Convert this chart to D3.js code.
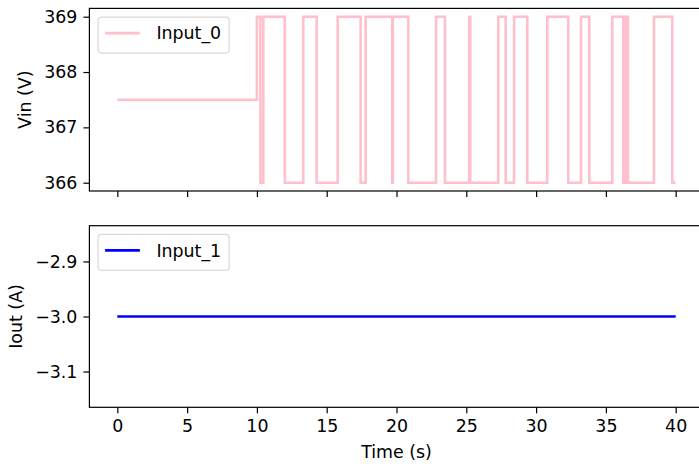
<!DOCTYPE html>
<html>
<head>
<meta charset="utf-8">
<script src="https://cdn.jsdelivr.net/npm/d3@7"></script>
<style>
  body { margin: 0; background: #fff; }
  text { font-family: "DejaVu Sans", sans-serif; fill: #000; }
</style>
</head>
<body>
<svg width="699" height="464"></svg>
<script>
// switching times (s) and voltage after each switch
const vinTimes = [0, 10, 10.25, 10.46, 12, 13.32, 14.28, 15.79, 17.43, 17.79, 19.70, 19.74,
    20.85, 22.83, 23.47, 25.21, 25.28, 27.29, 27.82, 28.42, 29.37, 30.80, 32.31, 33.22,
    33.81, 35.46, 36.25, 36.29, 36.33, 36.37, 36.41, 36.45, 36.49, 36.53, 36.58,
    38.44, 39.76, 40]
const vinValues = [367.5, 369, 366, 369, 366, 369, 366, 369, 366, 369, 366, 369,
    366, 369, 366, 369, 366, 369, 366, 369, 366, 369, 366, 369,
    366, 369, 366, 369, 366, 369, 366, 369, 366, 369, 366,
    369, 366, 366]
const ioutTimes = [0, 40]
const ioutValues = [-3.0, -3.0]

const xTicks = [0, 5, 10, 15, 20, 25, 30, 35, 40]
const vinTicks = [366, 367, 368, 369]
const ioutTicks = [-3.1, -3.0, -2.9]

const FS = 17.4
const svg = d3.select('svg')

const x = d3.scaleLinear().domain([-2, 42]).range([89.4, 703.6])
const yTop = d3.scaleLinear().domain([365.85, 369.15]).range([191, 8.4])
const yBot = d3.scaleLinear().domain([-3.165, -2.835]).range([407.3, 225.7])

const fmtMinus = d => d3.format('.1f')(d).replace('-', '\u2212')

function panel(y, times, values, color, ticks, tickFmt, name, ylabel, labelX, showX) {
    const [y0, y1] = y.range()
    const g = svg.append('g')

    const data = times.map((t, i) => [t, values[i]])
    g.append('path')
        .datum(data)
        .attr('fill', 'none')
        .attr('stroke', color)
        .attr('stroke-width', 2.6)
        .attr('d', d3.line().x(d => x(d[0])).y(d => y(d[1])).curve(d3.curveStepAfter))

    // frame
    g.append('rect')
        .attr('x', x.range()[0]).attr('y', y1)
        .attr('width', x.range()[1] - x.range()[0]).attr('height', y0 - y1)
        .attr('fill', 'none').attr('stroke', '#000').attr('stroke-width', 1.2)

    const xa = g.append('g')
        .attr('transform', `translate(0,${y0})`)
        .call(d3.axisBottom(x).tickValues(xTicks).tickSize(6).tickPadding(6)
            .tickFormat(showX ? d3.format('d') : ''))
    const ya = g.append('g')
        .attr('transform', `translate(${x.range()[0]},0)`)
        .call(d3.axisLeft(y).tickValues(ticks).tickSize(6).tickPadding(6).tickFormat(tickFmt))
    for (const a of [xa, ya]) {
        a.select('.domain').remove()
        a.selectAll('line').attr('stroke', '#000').attr('stroke-width', 1.2)
        a.selectAll('text').attr('font-size', FS).attr('font-family', '"DejaVu Sans", sans-serif')
    }

    g.append('text')
        .attr('transform', `translate(${labelX},${(y0 + y1) / 2}) rotate(-90)`)
        .attr('text-anchor', 'middle')
        .attr('font-size', FS)
        .text(ylabel)

    // legend
    const lx = x.range()[0] + 8.7, ly = y1 + 8.7
    const box = g.append('rect')
        .attr('x', lx).attr('y', ly).attr('rx', 3.5)
        .attr('height', 36)
        .attr('fill', '#fff').attr('fill-opacity', 0.8)
        .attr('stroke', '#d9d9d9').attr('stroke-width', 1.2)
    g.append('line')
        .attr('x1', lx + 7).attr('x2', lx + 7 + 34.8)
        .attr('y1', ly + 16).attr('y2', ly + 16)
        .attr('stroke', color).attr('stroke-width', 2.6)
    const t = g.append('text')
        .attr('x', lx + 7 + 34.8 + 16.5).attr('y', ly + 22.3)
        .attr('font-size', FS)
        .text(name)
    box.attr('width', 7 + 34.8 + 16.5 + t.node().getComputedTextLength() + 8)
}

panel(yTop, vinTimes, vinValues, 'pink', vinTicks, d3.format('d'), 'Input_0', 'Vin (V)', 31, false)
panel(yBot, ioutTimes, ioutValues, 'blue', ioutTicks, fmtMinus, 'Input_1', 'Iout (A)', 22, true)

svg.append('text')
    .attr('x', (x.range()[0] + x(40) + 28) / 2)
    .attr('y', 458)
    .attr('text-anchor', 'middle')
    .attr('font-size', FS)
    .text('Time (s)')
</script>
</body>
</html>
